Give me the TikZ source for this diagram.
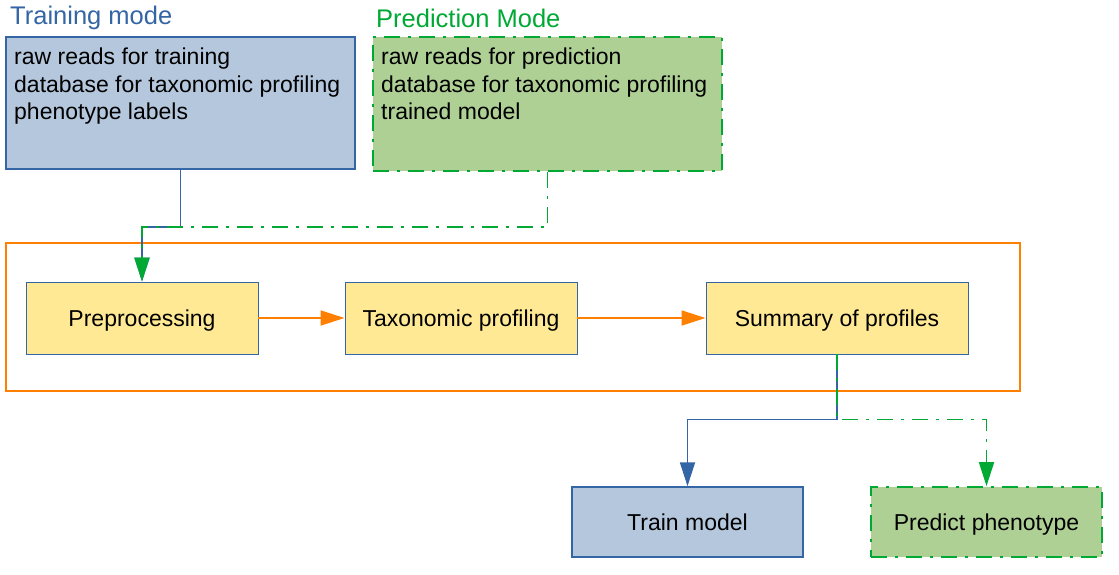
\documentclass[tikz,border=0pt]{standalone}
\usepackage{fontspec}
\setmainfont{Liberation Sans}
\usetikzlibrary{arrows.meta}

\definecolor{lobluedark}{HTML}{3465A4}
\definecolor{lobluelight}{HTML}{B4C7DC}
\definecolor{logreendark}{HTML}{00A933}
\definecolor{logreenlight}{HTML}{AFD095}
\definecolor{loyellow}{HTML}{FFE994}
\definecolor{loorange}{HTML}{FF8000}

\begin{document}
\begin{tikzpicture}[x=1pt,y=-1pt,
    bodyfont/.style={font=\fontsize{23}{27.5}\selectfont},
    titlefont/.style={font=\fontsize{25.5}{30}\selectfont, anchor=west, inner sep=0},
    dashdot/.style={dash pattern=on 16pt off 8pt on 3pt off 8pt},
    trainbox/.style={draw=lobluedark, fill=lobluelight, line width=1.5pt, inner sep=0},
    predbox/.style={draw=logreendark, fill=logreenlight, line width=1.7pt, dashdot, inner sep=0},
    centred/.style={text height=18pt, text depth=0.3pt},
    stepbox/.style={draw=lobluedark, fill=loyellow, line width=0.9pt, bodyfont, centred,
        minimum height=72pt, inner sep=0},
    tip/.style={-{Triangle[width=15pt,length=24pt]}},
    blueline/.style={draw=lobluedark, line width=1.8pt, tip},
    greenline/.style={draw=logreendark, line width=1.8pt, dashdot, tip},
    orangeline/.style={draw=loorange, line width=1.8pt, tip}]

    \useasboundingbox (0,0) rectangle (1119,575);

    % inputs
    \node[titlefont, text=lobluedark] (traintitle) at (10,18) {Training mode};
    \node[trainbox, minimum width=349pt, minimum height=132pt] (train) at (180.5,103) {};
    \node[bodyfont, anchor=north west, align=left, inner sep=0] (traintext) at (14,48)
        {raw reads for training\\database for taxonomic profiling\\phenotype labels};

    \node[titlefont, text=logreendark] (predtitle) at (376,18) {Prediction Mode};
    \node[predbox, minimum width=349pt, minimum height=134pt] (pred) at (547.5,104) {};
    \node[bodyfont, anchor=north west, align=left, inner sep=0] (predtext) at (381,48)
        {raw reads for prediction\\database for taxonomic profiling\\trained model};

    % pipeline
    \node[draw=loorange, line width=1.8pt, minimum width=1014pt, minimum height=148pt,
        inner sep=0] (pipeline) at (513,317) {};
    \node[stepbox, minimum width=232pt] (pre) at (142,318) {Preprocessing};
    \node[stepbox, minimum width=232pt] (tax) at (461,318) {Taxonomic profiling};
    \node[stepbox, minimum width=262pt] (sum) at (837,318) {Summary of profiles};

    \draw[orangeline] (pre) -- (tax);
    \draw[orangeline] (tax) -- (sum);

    % outputs
    \node[trainbox, bodyfont, centred, minimum width=231pt, minimum height=70pt] (fit) at (687.5,522) {Train model};
    \node[predbox, bodyfont, centred, minimum width=231pt, minimum height=70pt] (predict) at (986.5,522) {Predict phenotype};

    % connectors
    \draw[blueline] (train.south) -- ++(0,57) -| (pre.north);
    \draw[greenline] (pred.south) -- ++(0,55) -| (pre.north);
    \draw[blueline] (sum.south) -- ++(0,65) -| (fit.north);
    \draw[greenline] (sum.south) -- ++(0,65) -| (predict.north);

\end{tikzpicture}
\end{document}
